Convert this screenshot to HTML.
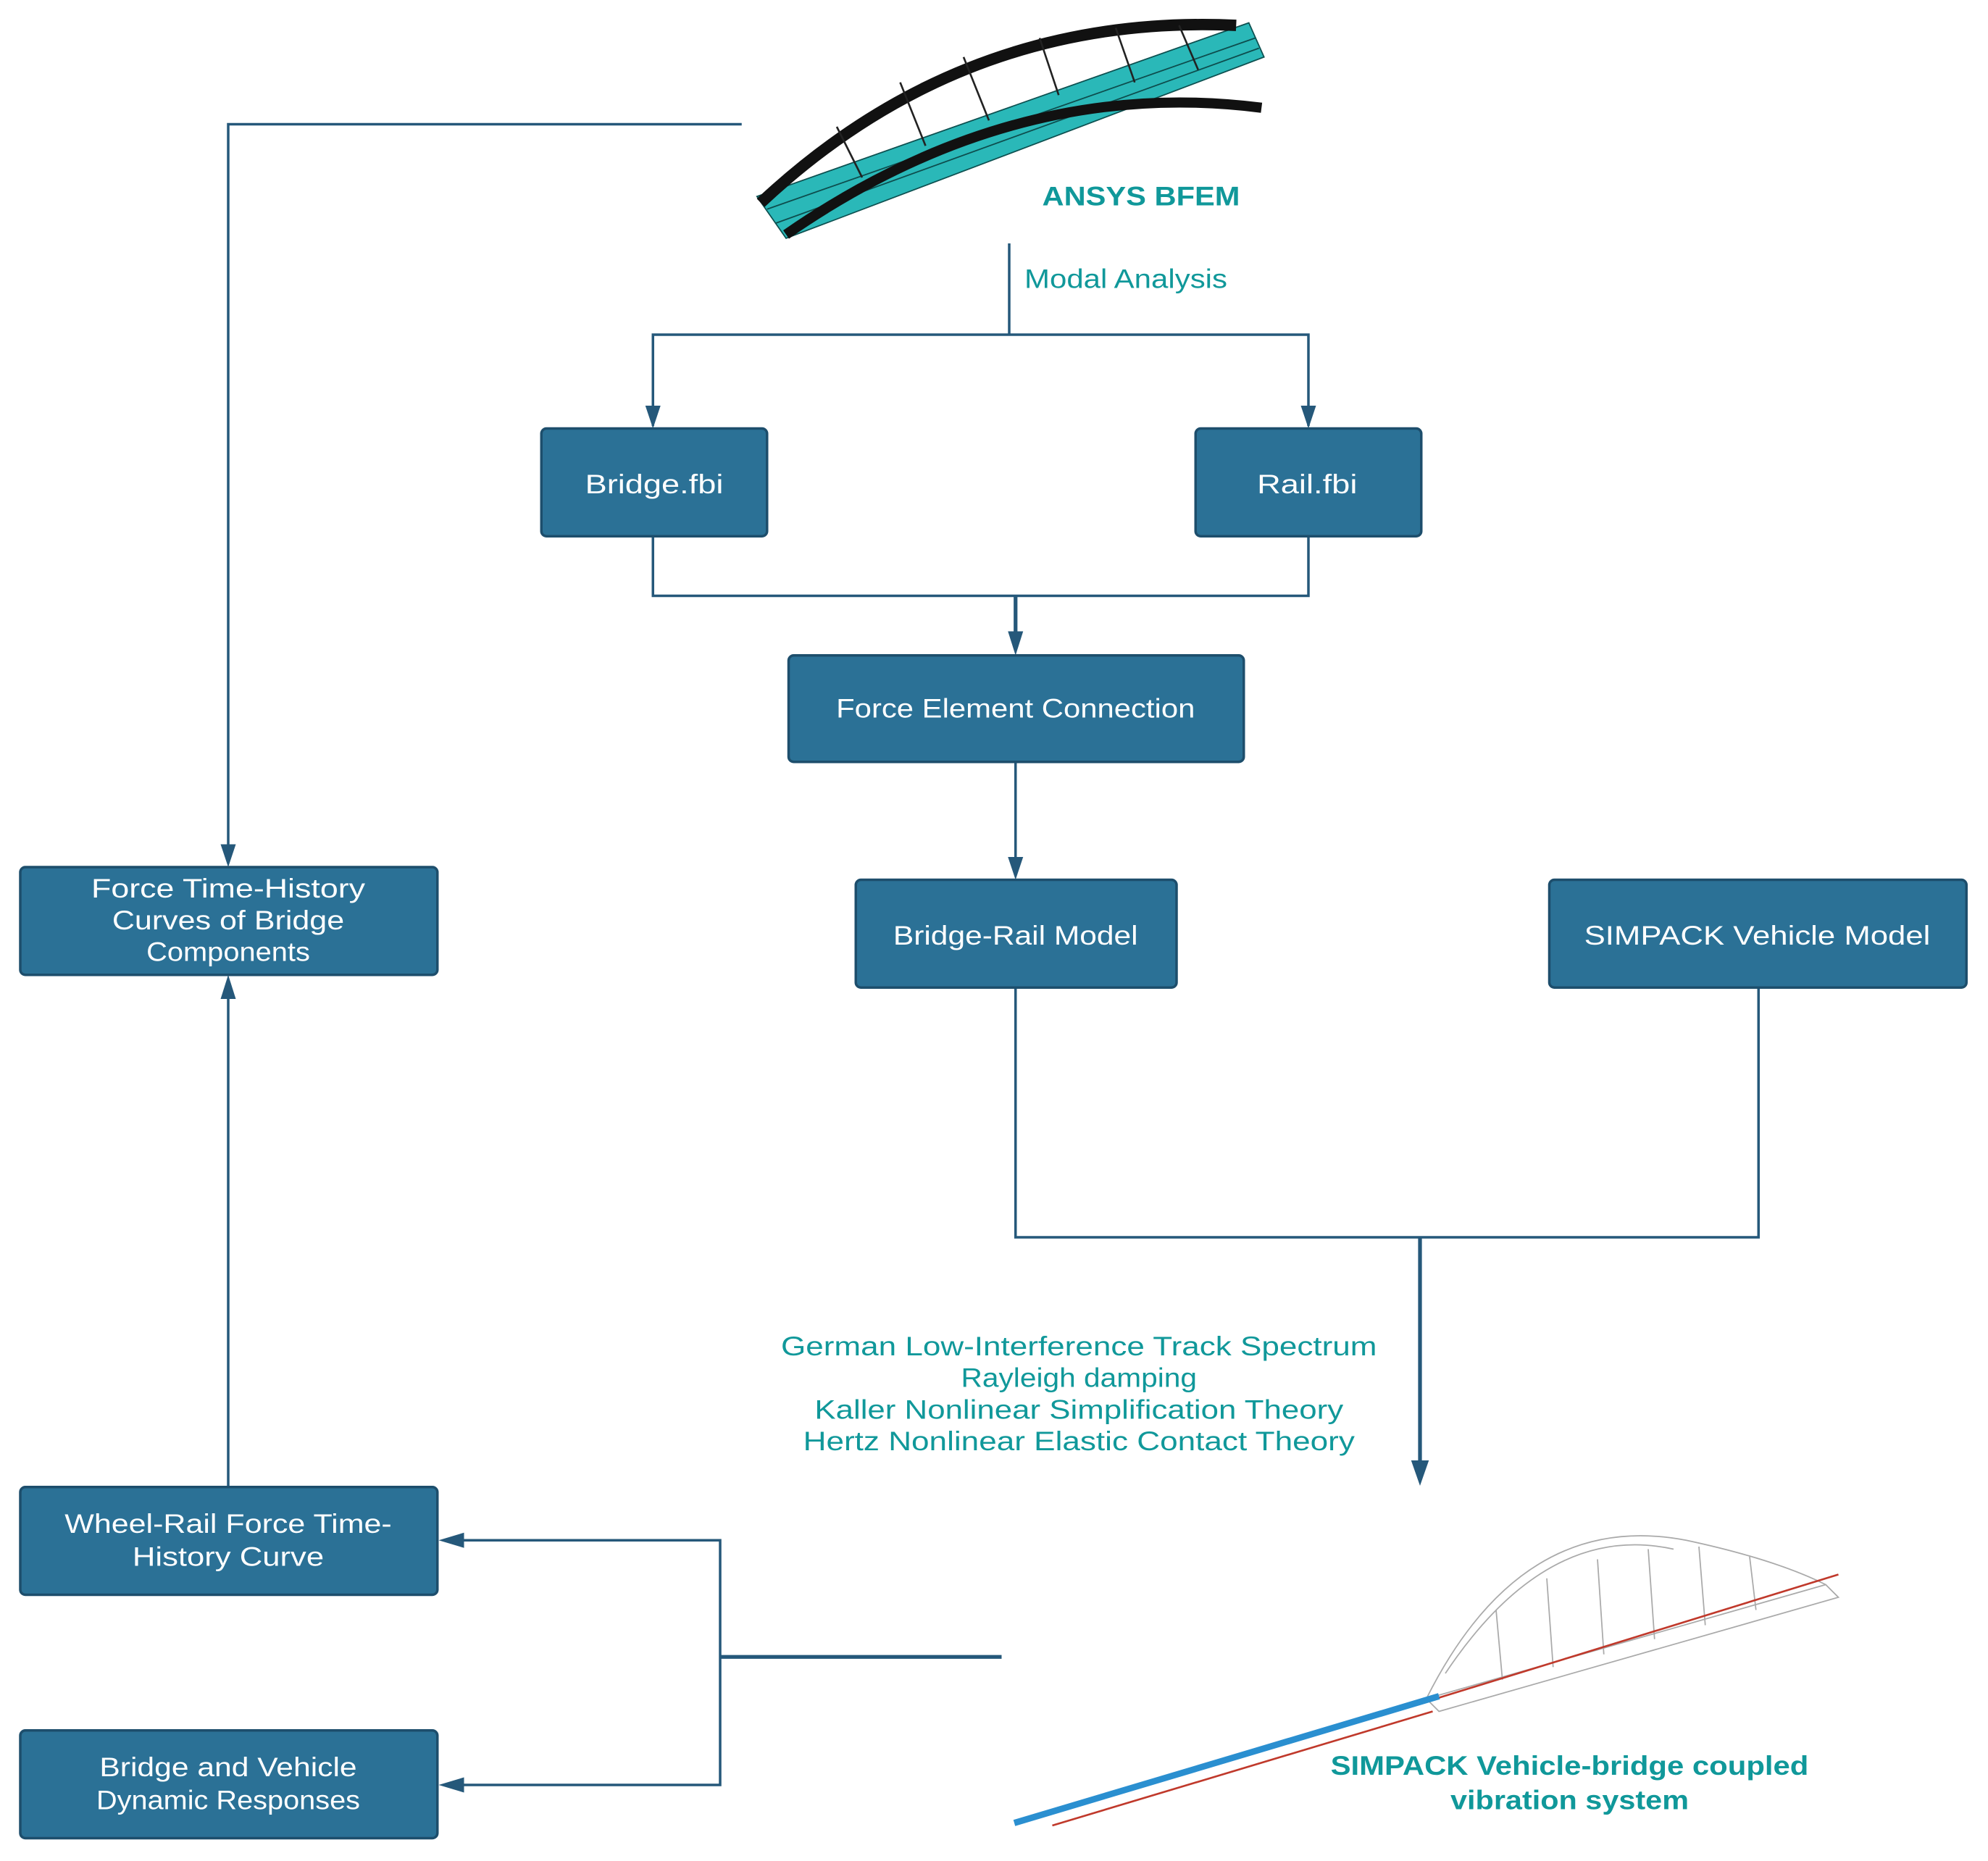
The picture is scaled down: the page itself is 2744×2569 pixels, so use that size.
<!DOCTYPE html>
<html><head><meta charset="utf-8"><style>
html,body{margin:0;padding:0;background:#fff}
svg{display:block}
.bx{fill:#2b7196;stroke:#1d4e6c;stroke-width:2}
.bt{fill:#fff;font-family:"Liberation Sans",sans-serif;font-size:21px;text-anchor:middle}
.ln{stroke:#25587a;stroke-width:2;fill:none}
.tl{fill:#10989a;font-family:"Liberation Sans",sans-serif;font-size:21px}
</style></head><body>
<svg width="2744" height="2569" viewBox="0 0 1568 1468" xmlns="http://www.w3.org/2000/svg">
<!-- top bridge -->
<polygon points="597,155 985,18 997,45 620,188" fill="#2ab8b8" stroke="#0d5050" stroke-width="1"/>
<g stroke="#0d4d4d" stroke-width="1">
<line x1="605" y1="165" x2="990" y2="30"/><line x1="612" y1="176" x2="993" y2="38"/>
</g>
<path d="M600,160 Q760,10 975,20" stroke="#111" stroke-width="9" fill="none"/>
<path d="M620,185 Q800,60 995,85" stroke="#111" stroke-width="8" fill="none"/>
<g stroke="#222" stroke-width="1.5"><line x1="660" y1="100" x2="680" y2="140"/><line x1="710" y1="65" x2="730" y2="115"/><line x1="760" y1="45" x2="780" y2="95"/><line x1="820" y1="30" x2="835" y2="75"/><line x1="880" y1="22" x2="895" y2="65"/><line x1="930" y1="20" x2="945" y2="55"/></g>
<text x="822" y="162" class="tl" font-weight="bold" textLength="156" lengthAdjust="spacingAndGlyphs">ANSYS BFEM</text>
<!-- connectors -->
<polyline class="ln" points="585,98 180,98 180,670"/>
<path d="M174,666 L180,684 L186,666Z" fill="#25587a"/>
<line class="ln" x1="796" y1="192" x2="796" y2="264"/>
<text x="808" y="227" class="tl" textLength="160" lengthAdjust="spacingAndGlyphs">Modal Analysis</text>
<polyline class="ln" points="515,336 515,264 1032,264 1032,336"/>
<path d="M509,320 L515,338 L521,320Z M1026,320 L1032,338 L1038,320Z" fill="#25587a"/>
<polyline class="ln" points="515,423 515,470 1032,470 1032,423"/>
<line x1="801" y1="470" x2="801" y2="500" stroke="#25587a" stroke-width="3"/>
<path d="M795,498 L801,517 L807,498Z" fill="#25587a"/>
<line class="ln" x1="801" y1="601" x2="801" y2="680"/>
<path d="M795,676 L801,694 L807,676Z" fill="#25587a"/>
<polyline class="ln" points="801,779 801,976 1387,976 1387,779"/>
<line x1="1120" y1="976" x2="1120" y2="1158" stroke="#25587a" stroke-width="3"/>
<path d="M1113,1152 L1120,1172 L1127,1152Z" fill="#25587a"/>
<line class="ln" x1="180" y1="1173" x2="180" y2="785"/>
<path d="M174,788 L180,769 L186,788Z" fill="#25587a"/>
<line x1="568" y1="1307" x2="790" y2="1307" stroke="#25587a" stroke-width="3"/>
<polyline class="ln" points="362,1215 568,1215 568,1408 362,1408"/>
<path d="M366,1209 L346,1215 L366,1221Z M366,1402 L346,1408 L366,1414Z" fill="#25587a"/>
<!-- boxes -->
<g lengthAdjust="spacingAndGlyphs">
<rect class="bx" x="427" y="338" width="178" height="85" rx="4"/><text class="bt" x="516" y="389" textLength="109" lengthAdjust="spacingAndGlyphs">Bridge.fbi</text>
<rect class="bx" x="943" y="338" width="178" height="85" rx="4"/><text class="bt" x="1031" y="389" textLength="79" lengthAdjust="spacingAndGlyphs">Rail.fbi</text>
<rect class="bx" x="622" y="517" width="359" height="84" rx="4"/><text class="bt" x="801" y="566" textLength="283" lengthAdjust="spacingAndGlyphs">Force Element Connection</text>
<rect class="bx" x="675" y="694" width="253" height="85" rx="4"/><text class="bt" x="801" y="745" textLength="193" lengthAdjust="spacingAndGlyphs">Bridge-Rail Model</text>
<rect class="bx" x="1222" y="694" width="329" height="85" rx="4"/><text class="bt" x="1386" y="745" textLength="273" lengthAdjust="spacingAndGlyphs">SIMPACK  Vehicle Model</text>
<rect class="bx" x="16" y="684" width="329" height="85" rx="4"/><text class="bt" x="180" y="708" textLength="216" lengthAdjust="spacingAndGlyphs">Force Time-History</text><text class="bt" x="180" y="733" textLength="183" lengthAdjust="spacingAndGlyphs">Curves of Bridge</text><text class="bt" x="180" y="758" textLength="129" lengthAdjust="spacingAndGlyphs">Components</text>
<rect class="bx" x="16" y="1173" width="329" height="85" rx="4"/><text class="bt" x="180" y="1209" textLength="258" lengthAdjust="spacingAndGlyphs">Wheel-Rail Force Time-</text><text class="bt" x="180" y="1235" textLength="151" lengthAdjust="spacingAndGlyphs">History Curve</text>
<rect class="bx" x="16" y="1365" width="329" height="85" rx="4"/><text class="bt" x="180" y="1401" textLength="203" lengthAdjust="spacingAndGlyphs">Bridge and Vehicle</text><text class="bt" x="180" y="1427" textLength="208" lengthAdjust="spacingAndGlyphs">Dynamic Responses</text>
</g>
<!-- conditions text -->
<g class="tl" text-anchor="middle"><text x="851" y="1069" textLength="470" lengthAdjust="spacingAndGlyphs">German Low-Interference Track Spectrum</text><text x="851" y="1094" textLength="186" lengthAdjust="spacingAndGlyphs">Rayleigh damping</text><text x="851" y="1119" textLength="417" lengthAdjust="spacingAndGlyphs">Kaller Nonlinear Simplification Theory</text><text x="851" y="1144" textLength="435" lengthAdjust="spacingAndGlyphs">Hertz Nonlinear Elastic Contact Theory</text></g>
<!-- bottom model -->
<g stroke="#aaa" stroke-width="1" fill="none">
<path d="M1125,1340 Q1200,1190 1330,1215 Q1400,1230 1440,1250"/>
<path d="M1140,1320 Q1220,1200 1320,1222"/>
<polyline points="1125,1340 1440,1250 1450,1260 1135,1350 1125,1340"/>
<line x1="1180" y1="1270" x2="1185" y2="1325"/><line x1="1220" y1="1245" x2="1225" y2="1315"/><line x1="1260" y1="1230" x2="1265" y2="1305"/><line x1="1300" y1="1222" x2="1305" y2="1293"/><line x1="1340" y1="1220" x2="1345" y2="1282"/><line x1="1380" y1="1228" x2="1385" y2="1270"/>
</g>
<line x1="1100" y1="1350" x2="1450" y2="1242" stroke="#c0392b" stroke-width="1.5"/>
<line x1="800" y1="1438" x2="1135" y2="1338" stroke="#2a8fd0" stroke-width="5"/>
<line x1="830" y1="1440" x2="1130" y2="1350" stroke="#c0392b" stroke-width="1.5"/>
<g class="tl" font-weight="bold" text-anchor="middle"><text x="1238" y="1400" textLength="377" lengthAdjust="spacingAndGlyphs">SIMPACK Vehicle-bridge coupled</text><text x="1238" y="1427" textLength="188" lengthAdjust="spacingAndGlyphs">vibration system</text></g>
</svg>
</body></html>
